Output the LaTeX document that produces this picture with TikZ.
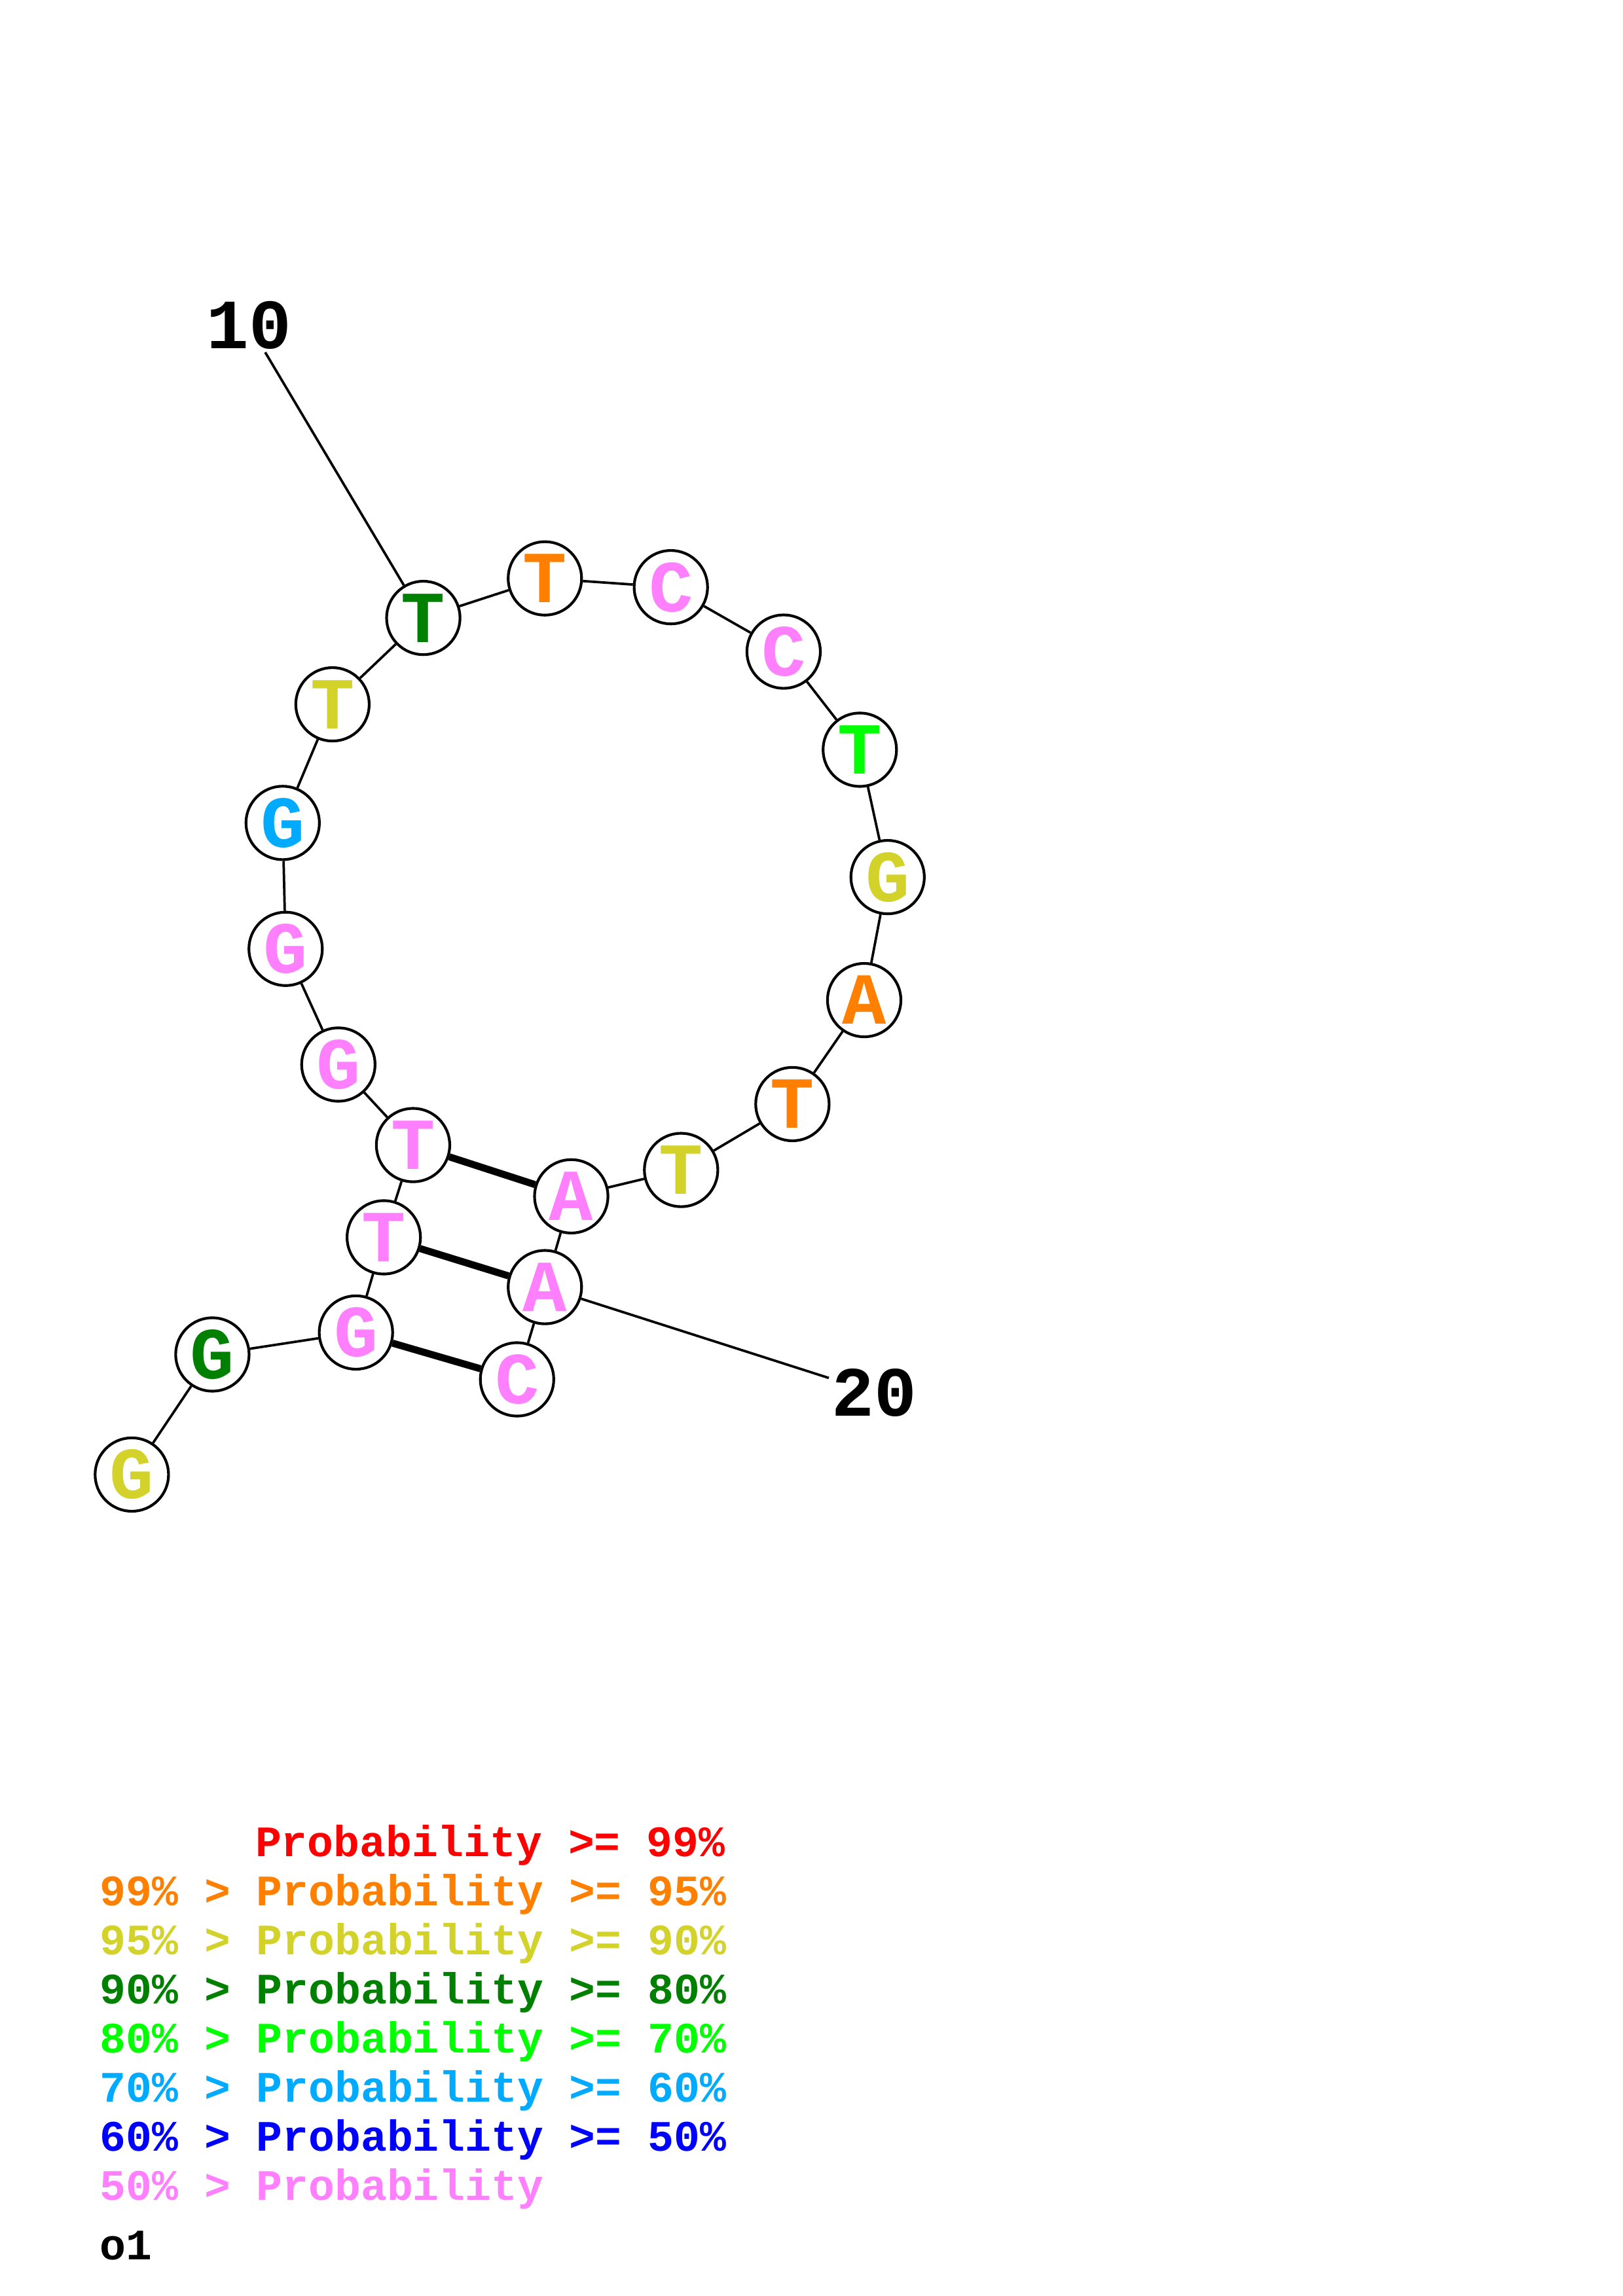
\documentclass[tikz,border=0pt]{standalone}
\usepackage{fontspec}
\newfontfamily\courier{Liberation Mono}
\definecolor{pred}{RGB}{255,0,0}
\definecolor{porange}{RGB}{255,128,0}
\definecolor{pyellow}{RGB}{210,210,42}
\definecolor{pdkgreen}{RGB}{0,128,0}
\definecolor{pgreen}{RGB}{0,255,0}
\definecolor{psky}{RGB}{0,170,255}
\definecolor{pblue}{RGB}{0,0,255}
\definecolor{ppink}{RGB}{255,128,255}
\tikzset{
  base/.style={circle, draw, line width=1pt, fill=white, minimum size=0.95cm, inner sep=0pt, font=\courier\bfseries\fontsize{27}{27}\selectfont},
  backbone/.style={line width=0.9pt},
  pairline/.style={line width=2.6pt},
  numlabel/.style={inner sep=1pt, font=\courier\bfseries\fontsize{26}{26}\selectfont},
  legend/.style={anchor=base west, inner sep=0pt, font=\courier\bfseries\fontsize{16}{16}\selectfont}
}
\begin{document}
\begin{tikzpicture}[x=0.018953cm, y=-0.018953cm]
\useasboundingbox (0,0) rectangle (1108,1568);

% Bases
\foreach \n/\x/\y/\b/\c in {
    1/90/1007/G/pyellow,
    2/145/925/G/pdkgreen,
    3/243/910/G/ppink,
    4/262/845/T/ppink,
    5/282/782/T/ppink,
    6/231/727/G/ppink,
    7/195/648/G/ppink,
    8/193/562/G/psky,
    9/227/481/T/pyellow,
    10/289/422/T/pdkgreen,
    11/372/395/T/porange,
    12/458/401/C/ppink,
    13/535/445/C/ppink,
    14/587/512/T/pgreen,
    15/606/599/G/pyellow,
    16/590/683/A/porange,
    17/541/754/T/porange,
    18/465/799/T/pyellow,
    19/390/817/A/ppink,
    20/372/879/A/ppink,
    21/353/942/C/ppink%
} {
    \node[base, text=\c] (b\n) at (\x,\y) {\b};
}

% Backbone and pairs
\foreach \i in {1,...,20} {
    \pgfmathtruncatemacro\j{\i+1}
    \draw[backbone] (b\i) -- (b\j);
}
\foreach \i/\j in {5/19, 4/20, 3/21} {
    \draw[pairline] (b\i) -- (b\j);
}

% Numbering
\node[numlabel] (lab10) at (170,222) {10};
\node[numlabel] (lab20) at (597,951) {20};
\draw[backbone] (lab10) -- (b10);
\draw[backbone] (b20) -- (lab20);

% Legend
\node[legend, text=pred] (leg1) at (174,1268) {Probability >= 99\%};
\foreach \k/\hi/\lo/\c in {
    2/99/95/porange,
    3/95/90/pyellow,
    4/90/80/pdkgreen,
    5/80/70/pgreen,
    6/70/60/psky,
    7/60/50/pblue%
} {
    \node[legend, text=\c] (leg\k) at (68,{1268+33.5*(\k-1)}) {\hi\% > Probability >= \lo\%};
}
\node[legend, text=ppink] (leg8) at (68,1502.5) {50\% > Probability};
\node[legend] (title) at (68,1543) {o1};
\end{tikzpicture}
\end{document}
